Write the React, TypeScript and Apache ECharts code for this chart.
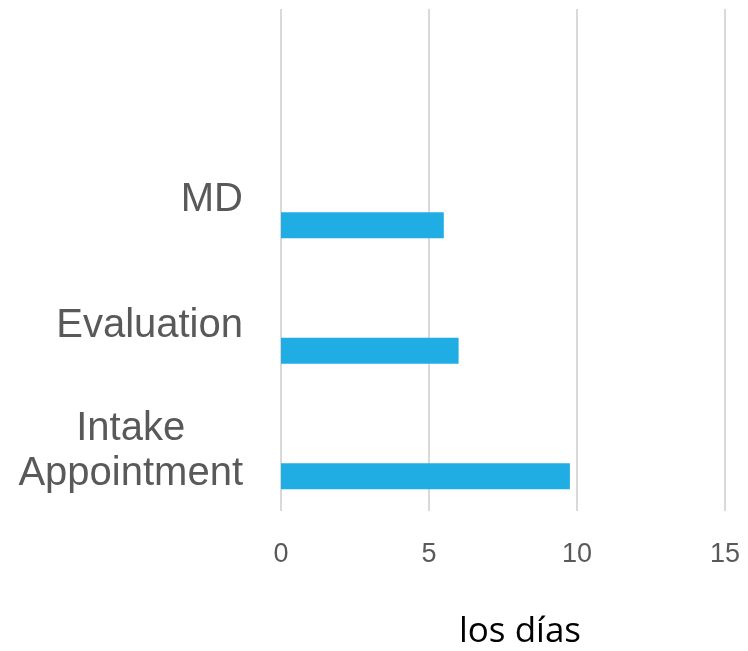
import React, { useEffect, useRef } from "react";
import * as echarts from "echarts";

const categories = ["Intake\nAppointment", "Evaluation", "MD", ""];
const spacerValues: (number | null)[] = [null, null, null, null];
const dayValues: (number | null)[] = [9.76, 6.0, 5.5, null];
const xTicks = { min: 0, max: 15, interval: 5 };
const xAxisTitle = "los días";

export default function App() {
  const ref = useRef<HTMLDivElement>(null);
  useEffect(() => {
    if (!ref.current) return;
    const chart = echarts.init(ref.current, undefined, { renderer: "svg" });
    chart.setOption({
      animation: false,
      grid: { left: 281, right: 23, top: 9, bottom: 135, containLabel: false },
      xAxis: {
        type: "value",
        min: xTicks.min,
        max: xTicks.max,
        interval: xTicks.interval,
        name: xAxisTitle,
        nameLocation: "middle",
        nameGap: 100,
        nameTextStyle: {
          fontFamily: "Open Sans",
          fontSize: 35,
          color: "#000000",
          padding: [0, 0, 0, 34],
        },
        axisLine: { show: false },
        axisTick: { show: false },
        axisLabel: {
          fontFamily: "Liberation Sans",
          fontSize: 27,
          color: "#595959",
          margin: 28,
        },
        splitLine: { show: true, lineStyle: { color: "#d9d9d9", width: 2 } },
      },
      yAxis: {
        type: "category",
        data: categories,
        axisLine: { show: false },
        axisTick: { show: false },
        axisLabel: {
          margin: 38,
          fontFamily: "Liberation Sans",
          fontSize: 40,
          color: "#595959",
          lineHeight: 45,
          formatter: (v: string) =>
            v
              .split("\n")
              .map((s) => `{c|${s}}`)
              .join("\n"),
          rich: {
            c: {
              align: "center",
              fontFamily: "Liberation Sans",
              fontSize: 40,
              color: "#595959",
              lineHeight: 45,
            },
          },
        },
        splitLine: { show: false },
      },
      series: [
        {
          type: "bar",
          data: spacerValues,
          barWidth: 26,
          barGap: "115%",
          itemStyle: { color: "#1FADE4" },
        },
        {
          type: "bar",
          data: dayValues,
          barWidth: 26,
          barGap: "115%",
          itemStyle: { color: "#1FADE4" },
        },
      ],
    });
    return () => chart.dispose();
  }, []);
  return (
    <div
      ref={ref}
      style={{ position: "fixed", left: 0, top: 0, width: 748, height: 651 }}
    />
  );
}
